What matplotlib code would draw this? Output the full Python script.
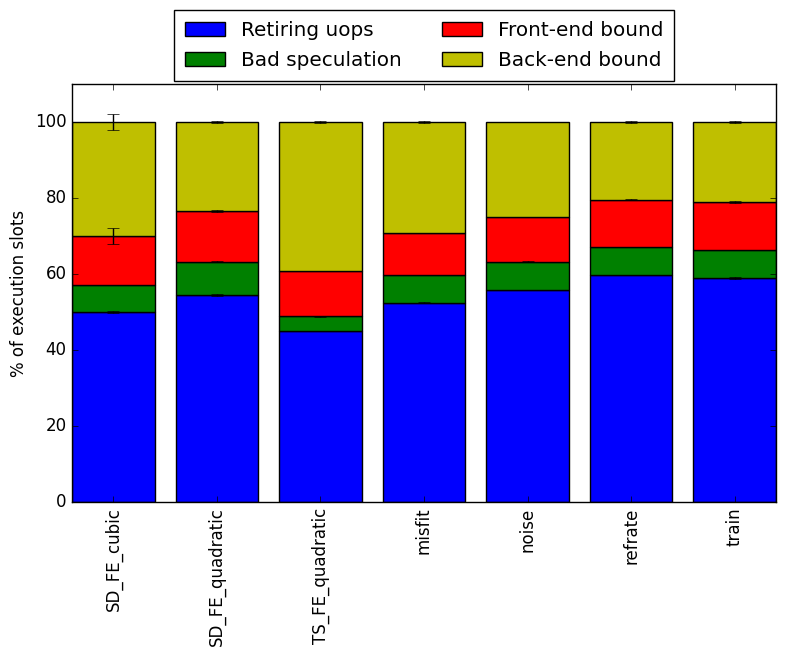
import matplotlib
matplotlib.use("Agg")
import matplotlib.pyplot as plt
import numpy as np

plt.style.use('classic')

categories = ["SD_FE_cubic", "SD_FE_quadratic", "TS_FE_quadratic", "misfit", "noise", "refrate", "train"]
retiring = [50.0, 54.5, 45.0, 52.4, 55.8, 59.7, 58.9]
bad_spec = [7.1, 8.7, 3.9, 7.3, 7.4, 7.4, 7.4]
front_end = [12.9, 13.4, 11.9, 11.1, 11.8, 12.4, 12.6]
back_end = [30.0, 23.4, 39.2, 29.2, 25.0, 20.5, 21.1]

err_retiring = [0.3, 0.2, 0.1, 0.1, 0.1, 0.1, 0.2]
err_bad_spec = [0.1, 0.1, 0.1, 0.1, 0.1, 0.1, 0.1]
err_front_end = [2.0, 0.2, 0.1, 0.1, 0.1, 0.1, 0.2]
err_back_end = [2.1, 0.2, 0.2, 0.2, 0.1, 0.2, 0.2]

series = [
    ("Retiring uops", retiring, err_retiring, "b"),
    ("Bad speculation", bad_spec, err_bad_spec, "g"),
    ("Front-end bound", front_end, err_front_end, "r"),
    ("Back-end bound", back_end, err_back_end, "y"),
]

fig = plt.figure(figsize=(7.85, 6.56), dpi=100)
ax = fig.add_axes([0.0917, 0.2348, 0.8968, 0.6372])

x = np.arange(len(categories))
width = 0.8
bottom = np.zeros(len(categories))
handles = []
for name, vals, errs, col in series:
    vals = np.array(vals)
    h = ax.bar(x, vals, width, bottom=bottom, color=col, edgecolor='k', label=name, align='center')
    handles.append(h)
    ax.errorbar(x, bottom + vals, yerr=errs, fmt='none', ecolor='k', capsize=4)
    bottom = bottom + vals

ax.set_xlim(-0.4, len(categories) - 0.6)
ax.set_ylim(0, 110)
ax.set_yticks([0, 20, 40, 60, 80, 100])
ax.set_xticks(x)
ax.set_xticklabels(categories, rotation=90)
ax.set_ylabel("% of execution slots")

ax.legend(handles, [s[0] for s in series], ncol=2,
          loc='upper center', bbox_to_anchor=(0.5, 1.2), fontsize=14.4,
          borderpad=0.55, labelspacing=0.55)

fig.savefig("out.png", dpi=100)
